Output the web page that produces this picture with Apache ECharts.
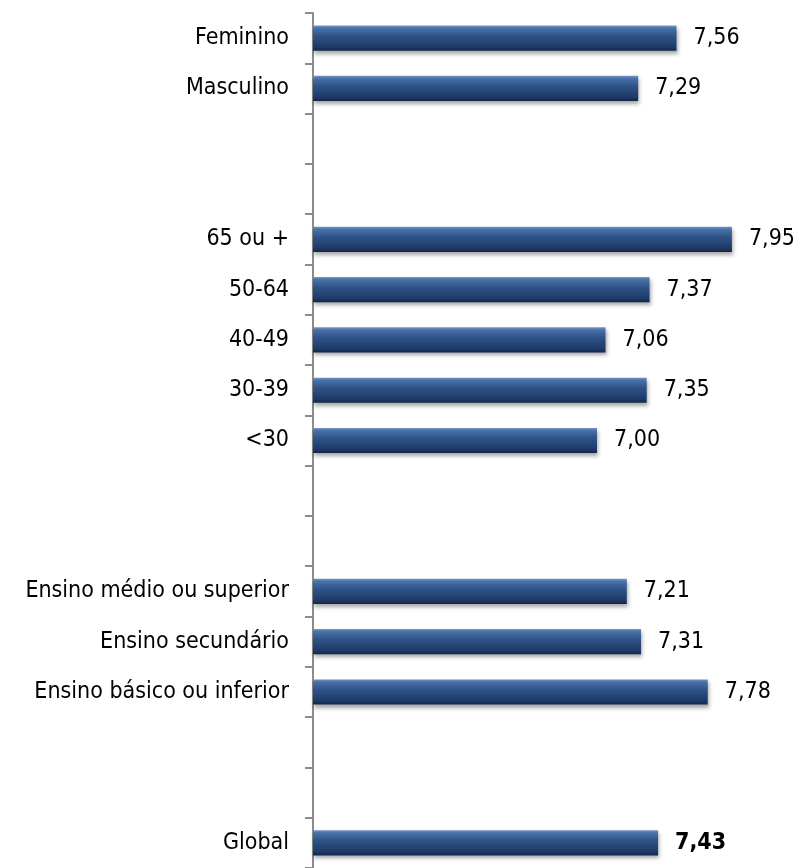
<!DOCTYPE html>
<html>
<head>
<meta charset="utf-8">
<script src="https://cdn.jsdelivr.net/npm/echarts@6/dist/echarts.min.js"></script>
<style>
html,body{margin:0;padding:0;background:#fff;}
#chart{width:801px;height:868px;}
</style>
</head>
<body>
<div id="chart"></div>
<script>
const categories = ['Feminino','Masculino','','','65 ou +','50-64','40-49','30-39','<30','','','Ensino médio ou superior','Ensino secundário','Ensino básico ou inferior','','','Global'];
const values = [7.56, 7.29, null, null, 7.95, 7.37, 7.06, 7.35, 7.00, null, null, 7.21, 7.31, 7.78, null, null, 7.43];
const boldLabels = ['Global'];

// pick the narrowest available condensed font
const ctx = document.createElement('canvas').getContext('2d');
function width(font, txt) { ctx.font = font; return ctx.measureText(txt).width; }
function available(name) {
  const t = 'mmmmmmmmmwwwwwlli10';
  return width('40px "' + name + '", monospace', t) !== width('40px monospace', t) ||
         width('40px "' + name + '", serif', t) !== width('40px serif', t);
}
const candidates = ['Liberation Sans Narrow', 'Arial Narrow', 'DejaVu Sans Condensed', 'Liberation Sans'];
let FAMILY = 'Liberation Sans';
for (const c of candidates) { if (available(c)) { FAMILY = c; break; } }
const FONT = '"' + FAMILY + '", sans-serif';
// size so the longest label matches the reference width (~267px), capped
const refW = 267;
const w20 = width('20px ' + FONT, 'Ensino médio ou superior');
const FS = Math.min(28, Math.max(18, Math.round(20 * refW / w20)));

const barGradient = {
  type: 'linear', x: 0, y: 0, x2: 0, y2: 1,
  colorStops: [
    {offset: 0, color: '#7396c6'},
    {offset: 0.1, color: '#4a72a8'},
    {offset: 0.4, color: '#2f5489'},
    {offset: 0.85, color: '#1e3a66'},
    {offset: 1, color: '#132645'}
  ]
};

const chart = echarts.init(document.getElementById('chart'));
chart.setOption({
  animation: false,
  backgroundColor: '#ffffff',
  grid: {left: 313, right: 62, top: 13, bottom: 0, containLabel: false},
  xAxis: {
    type: 'value', min: 5, max: 8, show: false
  },
  yAxis: {
    type: 'category', inverse: true, data: categories,
    axisLine: {show: true, lineStyle: {color: '#8c8c8c', width: 2}},
    axisTick: {show: true, length: 8, lineStyle: {color: '#8c8c8c', width: 2}},
    axisLabel: {color: '#000', fontFamily: FONT, fontSize: FS, margin: 24, interval: 0}
  },
  series: [{
    type: 'bar',
    barWidth: '50%',
    data: values.map((v, i) => ({
      value: v,
      label: {fontWeight: boldLabels.includes(categories[i]) ? 'bold' : 'normal'}
    })),
    itemStyle: {
      color: barGradient,
      shadowBlur: 4, shadowColor: 'rgba(0,0,0,0.35)', shadowOffsetY: 3, shadowOffsetX: 1
    },
    label: {
      show: true, position: 'right', distance: 17,
      color: '#000', fontFamily: FONT, fontSize: FS,
      formatter: p => p.value == null ? '' : p.value.toFixed(2).replace('.', ',')
    }
  }]
});
</script>
</body>
</html>
